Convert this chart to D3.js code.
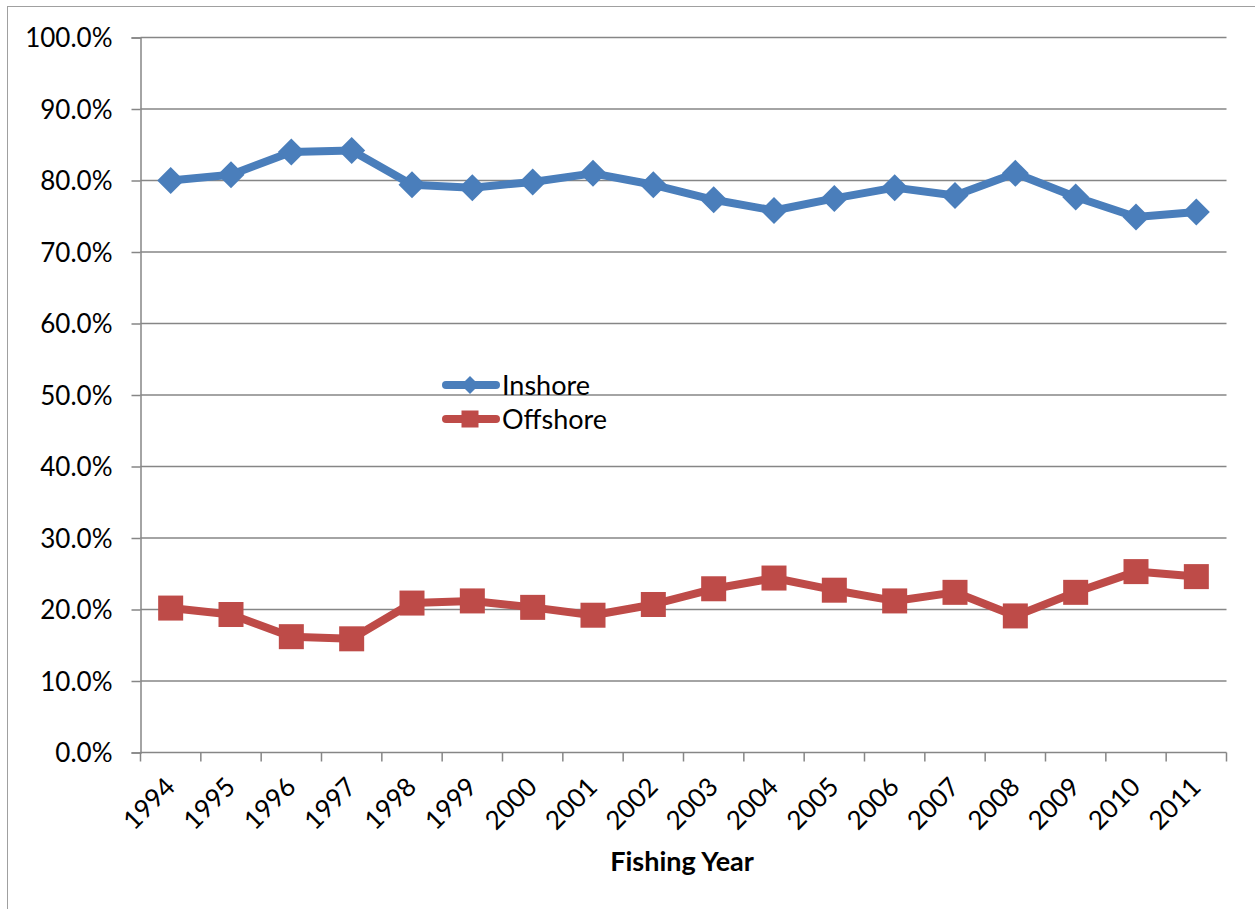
<!DOCTYPE html>
<html>
<head>
<meta charset="utf-8">
<script src="https://cdn.jsdelivr.net/npm/d3@7"></script>
<style>
  html, body { margin: 0; padding: 0; background: #fff; }
  svg { display: block; }
  text { font-family: Lato, "Open Sans", sans-serif; fill: #000; }
</style>
</head>
<body>
<svg id="chart" width="1255" height="909"></svg>
<script>
// Share of landings by fishing year
const years = ["1994","1995","1996","1997","1998","1999","2000","2001","2002",
               "2003","2004","2005","2006","2007","2008","2009","2010","2011"];
const inshore  = [80.0, 80.8, 84.0, 84.2, 79.4, 79.0, 79.8, 81.0, 79.4,
                  77.3, 75.8, 77.5, 79.0, 77.9, 81.0, 77.7, 74.9, 75.6];
const offshore = [20.2, 19.3, 16.2, 15.9, 20.9, 21.2, 20.3, 19.2, 20.7,
                  22.9, 24.4, 22.7, 21.2, 22.4, 19.1, 22.4, 25.3, 24.6];
const yTicks = [0, 10, 20, 30, 40, 50, 60, 70, 80, 90, 100];
const seriesNames = ["Inshore", "Offshore"];
const xTitle = "Fishing Year";

const svg = d3.select("#chart");
const m = { left: 140.5, right: 1226.5, top: 37.5, bottom: 752.5 };
const grey = "#868686";
const colors = { Inshore: "#4A7EBB", Offshore: "#BE4B48" };

// outer frame
svg.append("rect")
  .attr("x", 7.5).attr("y", 6.5)
  .attr("width", 1300).attr("height", 1000)
  .attr("fill", "none").attr("stroke", "#a0a0a0").attr("stroke-width", 1);

const x = d3.scaleBand().domain(years).range([m.left, m.right]).padding(0);
const y = d3.scaleLinear().domain([0, 100]).range([m.bottom, m.top]);

// horizontal gridlines
svg.append("g").selectAll("line").data(yTicks.filter(d => d > 0)).join("line")
  .attr("x1", m.left).attr("x2", m.right)
  .attr("y1", d => y(d)).attr("y2", d => y(d))
  .attr("stroke", grey).attr("stroke-width", 1.5);

// y axis
const yAxis = svg.append("g")
  .attr("transform", `translate(${m.left},0)`)
  .call(d3.axisLeft(y).tickValues(yTicks).tickSize(9).tickPadding(19)
        .tickFormat(d => d.toFixed(1) + "%"));
yAxis.select(".domain").attr("stroke", grey).attr("stroke-width", 1.5);
yAxis.selectAll(".tick line").attr("stroke", grey).attr("stroke-width", 1.5);
yAxis.selectAll(".tick text")
  .attr("font-size", 26).attr("font-family", "Lato, sans-serif").attr("dy", "0.36em");

// x axis: ticks on category boundaries
const boundaries = years.map(d => x(d)).concat([m.right]);
svg.append("line")
  .attr("x1", m.left).attr("x2", m.right)
  .attr("y1", m.bottom).attr("y2", m.bottom)
  .attr("stroke", grey).attr("stroke-width", 1.5);
svg.append("g").selectAll("line").data(boundaries).join("line")
  .attr("x1", d => d).attr("x2", d => d)
  .attr("y1", m.bottom).attr("y2", m.bottom + 9)
  .attr("stroke", grey).attr("stroke-width", 1.5);

svg.append("g").selectAll("text").data(years).join("text")
  .attr("transform", d => `translate(${x(d) + x.bandwidth() / 2 + 6},${m.bottom + 36}) rotate(-45)`)
  .attr("text-anchor", "end")
  .attr("font-size", 26)
  .text(d => d);

// x axis title
svg.append("text")
  .attr("x", 682).attr("y", 871)
  .attr("text-anchor", "middle")
  .attr("font-size", 27).attr("font-weight", "bold")
  .text(xTitle);

// series lines + markers
const cx = d => x(d) + x.bandwidth() / 2;
const line = d3.line().x(d => cx(d[0])).y(d => y(d[1]));
const seriesData = [
  { name: "Inshore", values: years.map((yr, i) => [yr, inshore[i]]) },
  { name: "Offshore", values: years.map((yr, i) => [yr, offshore[i]]) }
];

seriesData.forEach(s => {
  svg.append("path")
    .datum(s.values)
    .attr("d", line)
    .attr("fill", "none")
    .attr("stroke", colors[s.name])
    .attr("stroke-width", 8)
    .attr("stroke-linejoin", "round");
  const g = svg.append("g");
  if (s.name === "Inshore") {
    g.selectAll("path").data(s.values).join("path")
      .attr("d", d => {
        const px = cx(d[0]), py = y(d[1]), r = 13.5;
        return `M${px},${py - r}L${px + r},${py}L${px},${py + r}L${px - r},${py}Z`;
      })
      .attr("fill", colors[s.name]);
  } else {
    g.selectAll("rect").data(s.values).join("rect")
      .attr("x", d => cx(d[0]) - 12.5).attr("y", d => y(d[1]) - 12.5)
      .attr("width", 25).attr("height", 25)
      .attr("fill", colors[s.name]);
  }
});

// legend
const legend = svg.append("g");
seriesNames.forEach((name, i) => {
  const ly = 385 + i * 34;
  legend.append("line")
    .attr("x1", 446).attr("x2", 496).attr("y1", ly).attr("y2", ly)
    .attr("stroke", colors[name]).attr("stroke-width", 8).attr("stroke-linecap", "round");
  if (name === "Inshore") {
    const r = 9;
    legend.append("path")
      .attr("d", `M470,${ly - r}L${470 + r},${ly}L470,${ly + r}L${470 - r},${ly}Z`)
      .attr("fill", colors[name]);
  } else {
    legend.append("rect")
      .attr("x", 461.5).attr("y", ly - 8.5).attr("width", 17).attr("height", 17)
      .attr("fill", colors[name]);
  }
  legend.append("text")
    .attr("x", 502).attr("y", ly + 10)
    .attr("font-size", 27)
    .text(name);
});
</script>
</body>
</html>
